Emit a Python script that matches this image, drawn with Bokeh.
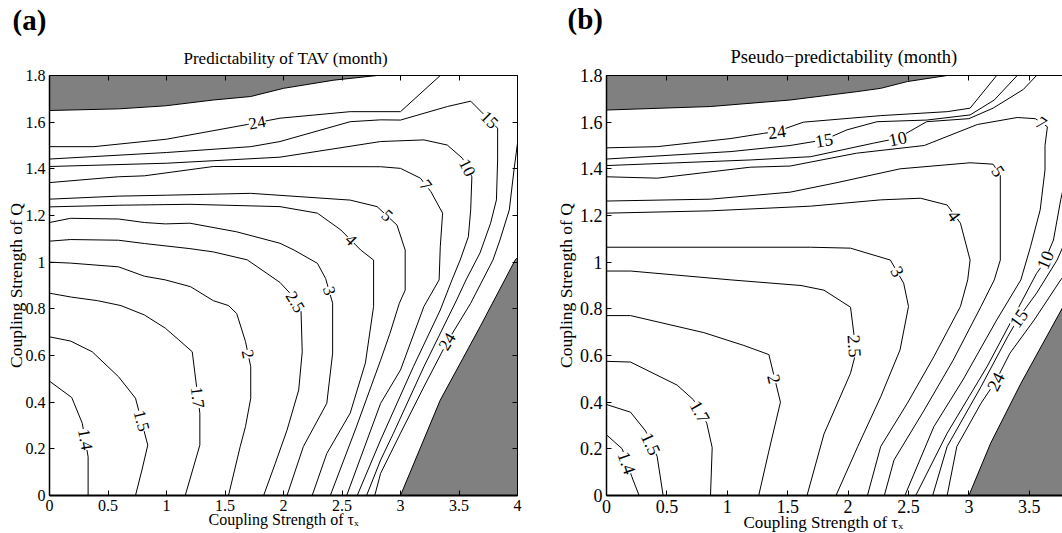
import math
from bokeh.plotting import figure
from bokeh.models import Range1d, LinearAxis, FixedTicker, CustomJSTickFormatter, Label, Title
from bokeh.layouts import row
from bokeh.embed import file_html
from bokeh.resources import INLINE

# ---------------- data ----------------
X_TICKS = [0, 0.5, 1, 1.5, 2, 2.5, 3, 3.5, 4]
Y_TICKS = [0, 0.2, 0.4, 0.6, 0.8, 1.0, 1.2, 1.4, 1.6, 1.8]

# Panel (a): Predictability of TAV (month)
A_LEVELS = ["1.4", "1.5", "1.7", "2", "2.5", "3", "4", "5", "7", "10", "15", "24", "24"]
A_XS = [
    [0, 0.19, 0.28, 0.33, 0.33],
    [0, 0.18, 0.365, 0.59, 0.735, 0.84, 0.79, 0.735],
    [0, 0.19, 0.41, 0.61, 0.81, 0.99, 1.105, 1.22, 1.25, 1.285, 1.285, 1.16],
    [0, 0.18, 0.59, 0.81, 0.99, 1.205, 1.40, 1.53, 1.60, 1.675, 1.72, 1.72, 1.675, 1.63, 1.53],
    [0, 0.18, 0.59, 0.81, 1.2, 1.4, 1.69, 1.97, 2.05, 2.15, 2.16, 2.13, 2.03, 1.93, 1.83],
    [0, 0.18, 0.59, 0.81, 0.99, 1.2, 1.6, 1.97, 2.09, 2.29, 2.36, 2.42, 2.42, 2.37, 2.17, 2.03],
    [0, 0.59, 1.2, 1.97, 2.29, 2.49, 2.66, 2.77, 2.77, 2.70, 2.57, 2.37, 2.245],
    [0, 0.59, 1.0, 1.72, 2.57, 2.80, 2.97, 3.04, 3.04, 2.99, 2.91, 2.83, 2.62, 2.40],
    [0, 0.59, 0.81, 1.40, 1.97, 2.83, 3.0, 3.17, 3.26, 3.36, 3.34, 3.33, 3.2, 3.0, 2.83, 2.54],
    [0, 1.0, 1.97, 2.83, 3.2, 3.4, 3.53, 3.61, 3.60, 3.58, 3.51, 3.44, 3.34, 3.11, 2.83, 2.63],
    [0, 1.0, 1.72, 1.97, 2.57, 2.83, 3.0, 3.40, 3.60, 3.83, 3.83, 3.82, 3.77, 3.68, 3.56, 3.48, 3.2, 2.94, 2.83, 2.71],
    [0, 0.38, 1.0, 1.69, 1.97, 2.57, 3.0, 3.34],
    [4.0, 3.97, 3.93, 3.85, 3.79, 3.6, 3.40, 3.2, 3.0, 2.83, 2.78],
]
A_YS = [
    [0.49, 0.42, 0.31, 0.166, 0],
    [0.68, 0.662, 0.616, 0.509, 0.417, 0.216, 0.109, 0],
    [0.867, 0.85, 0.835, 0.814, 0.774, 0.717, 0.667, 0.616, 0.495, 0.352, 0.216, 0],
    [1.0, 0.996, 0.98, 0.94, 0.924, 0.895, 0.835, 0.814, 0.78, 0.66, 0.552, 0.417, 0.295, 0.21, 0],
    [1.09, 1.097, 1.094, 1.08, 1.058, 1.044, 1.01, 0.913, 0.87, 0.788, 0.616, 0.452, 0.28, 0.138, 0],
    [1.17, 1.188, 1.185, 1.17, 1.164, 1.167, 1.13, 1.081, 1.052, 0.995, 0.93, 0.824, 0.61, 0.395, 0.21, 0],
    [1.237, 1.244, 1.248, 1.238, 1.21, 1.138, 1.052, 1.009, 0.81, 0.568, 0.353, 0.18, 0],
    [1.27, 1.283, 1.287, 1.295, 1.266, 1.238, 1.159, 1.052, 0.88, 0.824, 0.695, 0.58, 0.29, 0],
    [1.341, 1.366, 1.37, 1.41, 1.41, 1.409, 1.402, 1.36, 1.302, 1.21, 1.066, 0.924, 0.81, 0.538, 0.395, 0],
    [1.41, 1.424, 1.45, 1.517, 1.524, 1.502, 1.445, 1.366, 1.224, 1.109, 1.009, 0.924, 0.795, 0.552, 0.238, 0],
    [1.442, 1.47, 1.495, 1.517, 1.602, 1.61, 1.609, 1.667, 1.69, 1.574, 1.438, 1.267, 1.167, 1.04, 0.924, 0.838, 0.552, 0.267, 0.152, 0],
    [1.495, 1.495, 1.527, 1.59, 1.617, 1.645, 1.645, 1.8],
    [1.51, 1.395, 1.224, 1.095, 1.009, 0.824, 0.659, 0.466, 0.267, 0.095, 0],
]
A_LABEL_X = [0.305, 0.786, 1.265, 1.695, 2.10, 2.39, 2.575, 2.885, 3.215, 3.57, 3.76, 1.775, 3.40]
A_LABEL_Y = [0.24, 0.32, 0.42, 0.606, 0.829, 0.877, 1.095, 1.2, 1.33, 1.405, 1.61, 1.597, 0.659]
A_GRAY_TOP_X = [0, 0, 0.59, 0.99, 1.4, 1.72, 2.0, 2.43, 2.8]
A_GRAY_TOP_Y = [1.8, 1.65, 1.657, 1.67, 1.695, 1.71, 1.745, 1.78, 1.8]
A_GRAY_BOT_X = [3.0, 3.34, 3.68, 3.98, 4.0, 4.0]
A_GRAY_BOT_Y = [0, 0.409, 0.723, 1.009, 1.02, 0]

# Panel (b): Pseudo-predictability (month)
B_LEVELS = ["1.4", "1.5", "1.7", "2", "2.5", "3", "4", "5", "7", "10", "10", "15", "15", "24", "24"]
B_XS = [
    [0, 0.13, 0.21, 0.27],
    [0, 0.199, 0.323, 0.419, 0.469],
    [0, 0.199, 0.585, 0.72, 0.83, 0.875, 0.861],
    [0, 0.199, 0.806, 1.137, 1.344, 1.44, 1.344, 1.26],
    [0, 0.2, 1.03, 1.61, 1.80, 2.02, 2.05, 2.06, 2.02, 1.80, 1.66],
    [0, 1.69, 2.02, 2.35, 2.46, 2.50, 2.43, 2.27, 2.08, 1.90],
    [0, 0.86, 1.69, 2.27, 2.60, 2.82, 2.93, 3.01, 2.99, 2.93, 2.71, 2.49, 2.27, 2.16],
    [0, 0.86, 1.52, 1.9, 2.43, 3.01, 3.20, 3.26, 3.26, 3.21, 3.10, 2.87, 2.63, 2.38, 2.30],
    [0, 0.42, 1.19, 1.52, 2.07, 2.63, 3.07, 3.40, 3.55, 3.65, 3.63, 3.63, 3.59, 3.51, 3.43, 3.23, 2.95, 2.71, 2.47],
    [0, 1.19, 1.69, 2.21, 2.41, 2.65, 3.0, 3.2, 3.45, 3.56],
    [3.80, 3.76, 3.70, 3.62, 3.56, 3.40, 3.15, 2.82, 2.56],
    [0, 1.03, 1.52, 1.80, 1.99, 2.24, 2.65, 3.01, 3.21, 3.40],
    [3.85, 3.73, 3.56, 3.41, 3.32, 3.10, 2.82, 2.70],
    [0, 0.42, 1.03, 1.30, 1.41, 1.63, 2.27, 2.82, 3.01, 3.23],
    [3.9, 3.76, 3.54, 3.34, 3.22, 3.10, 2.90, 2.82],
]
B_YS = [
    [0.26, 0.20, 0.08, 0],
    [0.39, 0.357, 0.277, 0.168, 0],
    [0.575, 0.572, 0.473, 0.41, 0.31, 0.205, 0],
    [0.771, 0.771, 0.698, 0.643, 0.604, 0.40, 0.19, 0],
    [0.962, 0.962, 0.924, 0.90, 0.88, 0.807, 0.684, 0.604, 0.524, 0.263, 0],
    [1.064, 1.064, 1.06, 1.009, 0.91, 0.81, 0.624, 0.423, 0.21, 0],
    [1.21, 1.22, 1.24, 1.267, 1.274, 1.245, 1.167, 1.009, 0.924, 0.81, 0.595, 0.395, 0.21, 0],
    [1.262, 1.27, 1.30, 1.34, 1.40, 1.426, 1.42, 1.374, 1.009, 0.924, 0.81, 0.58, 0.366, 0.152, 0],
    [1.366, 1.36, 1.407, 1.412, 1.467, 1.50, 1.59, 1.62, 1.615, 1.58, 1.50, 1.395, 1.224, 1.066, 0.924, 0.752, 0.495, 0.295, 0],
    [1.414, 1.438, 1.452, 1.51, 1.531, 1.602, 1.615, 1.66, 1.74, 1.8],
    [1.36, 1.267, 1.095, 0.995, 0.952, 0.795, 0.552, 0.267, 0],
    [1.442, 1.474, 1.50, 1.524, 1.567, 1.602, 1.609, 1.631, 1.695, 1.8],
    [1.15, 1.009, 0.867, 0.76, 0.68, 0.466, 0.21, 0],
    [1.49, 1.495, 1.53, 1.552, 1.56, 1.60, 1.628, 1.645, 1.66, 1.8],
    [1.02, 0.924, 0.752, 0.61, 0.488, 0.395, 0.21, 0],
]
B_LABEL_X = [0.17, 0.37, 0.775, 1.39, 2.055, 2.41, 2.88, 3.245, 3.60, 2.41, 3.63, 1.80, 3.41, 1.41, 3.22]
B_LABEL_Y = [0.14, 0.222, 0.36, 0.50, 0.64, 0.96, 1.20, 1.39, 1.598, 1.531, 1.01, 1.524, 0.76, 1.56, 0.488]
B_GRAY_TOP_X = [0, 0, 0.86, 1.52, 2.075, 2.27, 2.49, 2.82]
B_GRAY_TOP_Y = [1.8, 1.652, 1.667, 1.695, 1.731, 1.745, 1.774, 1.8]
B_GRAY_BOT_X = [3.0, 3.18, 3.43, 3.77, 4.0, 4.0]
B_GRAY_BOT_Y = [0, 0.224, 0.48, 0.80, 1.05, 0]

TITLES = ["Predictability of TAV  (month)", "Pseudo\u2212predictability (month)"]
PANEL_TAGS = ["(a)", "(b)"]
XLABEL = "Coupling Strength of \u03c4\u2093"
YLABEL = "Coupling Strength of Q"

SERIF = "Liberation Serif"
FMT = "return String(Math.round(tick*10)/10);"


def label_angle(xs, ys, lx, ly, sx, sy):
    best = None
    for i in range(len(xs) - 1):
        x0, y0, x1, y1 = xs[i], ys[i], xs[i + 1], ys[i + 1]
        vx, vy = (x1 - x0) * sx, (y1 - y0) * sy
        px, py = (lx - x0) * sx, (ly - y0) * sy
        L2 = vx * vx + vy * vy
        t = 0 if L2 == 0 else max(0, min(1, (px * vx + py * vy) / L2))
        d = (px - t * vx) ** 2 + (py - t * vy) ** 2
        if best is None or d < best[0]:
            best = (d, vx, vy)
    ang = math.atan2(best[2], best[1])
    while ang >= math.pi / 2 - 1e-6:
        ang -= math.pi
    while ang < -math.pi / 2 - 1e-6:
        ang += math.pi
    return ang


def make_panel(width, left, right, frame_x0, xmax, levels, xs, ys, lab_x, lab_y,
               gtx, gty, gbx, gby, title, tag, tick_size, title_size, xlab_size, clab_size,
               title_abs, xlab_abs, tag_abs, ylab_standoff, title_standoff, tag_standoff,
               right_axis):
    top, bottom, height = 75, 38, 533
    p = figure(width=width, height=height, x_range=Range1d(0, xmax), y_range=Range1d(0, 1.8),
               output_backend="svg", toolbar_location=None,
               min_border_left=left, min_border_right=right,
               min_border_top=top, min_border_bottom=bottom)
    p.outline_line_color = None
    p.grid.visible = False
    p.background_fill_color = "white"
    p.border_fill_color = "white"
    fw = width - left - right
    fh = height - top - bottom
    sx = fw / xmax
    sy = fh / 1.8

    for ax, ticks, lw in ((p.xaxis[0], X_TICKS, 2), (p.yaxis[0], Y_TICKS, 1.5)):
        ax.ticker = FixedTicker(ticks=ticks)
        ax.formatter = CustomJSTickFormatter(code=FMT)
        ax.major_tick_in = 5
        ax.major_tick_out = 0
        ax.minor_tick_in = 0
        ax.minor_tick_out = 0
        ax.axis_line_width = lw
        ax.axis_line_color = "black"
        ax.major_tick_line_color = "black"
        ax.major_label_text_font = SERIF
        ax.major_label_text_font_size = f"{tick_size}px"
        ax.major_label_text_color = "black"
        ax.major_label_standoff = 4
        ax.axis_label_text_font = SERIF
        ax.axis_label_text_font_style = "normal"
        ax.axis_label_text_color = "black"
    p.yaxis[0].axis_label = YLABEL
    p.yaxis[0].axis_label_text_font_size = "17.5px"
    p.yaxis[0].axis_label_standoff = ylab_standoff

    sides = [("above", X_TICKS)]
    if right_axis:
        sides.append(("right", Y_TICKS))
    for side, ticks in sides:
        ax = LinearAxis(ticker=FixedTicker(ticks=ticks), formatter=CustomJSTickFormatter(code="return '';"),
                        major_tick_in=5, major_tick_out=0, minor_tick_in=0, minor_tick_out=0,
                        axis_line_width=1, axis_line_color="black", major_label_text_font_size="1px",
                        major_label_standoff=0)
        p.add_layout(ax, side)

    p.add_layout(Title(text=title, align="left", offset=title_abs - frame_x0, vertical_align="middle",
                       text_font=SERIF, text_font_style="normal", text_font_size=f"{title_size}px",
                       text_color="black", standoff=title_standoff), "above")
    p.add_layout(Title(text=tag, align="left", offset=tag_abs - frame_x0, vertical_align="top",
                       text_font=SERIF, text_font_style="bold", text_font_size="29px",
                       text_color="black", standoff=tag_standoff), "above")
    p.add_layout(Title(text=XLABEL, align="left", offset=xlab_abs - frame_x0, text_font=SERIF,
                       text_font_style="normal", text_font_size=f"{xlab_size}px",
                       text_color="black", standoff=-9), "below")

    p.patch(gtx, gty, fill_color="#808080", line_color="black", line_width=1)
    p.patch(gbx, gby, fill_color="#808080", line_color="black", line_width=1)
    p.multi_line(xs=xs, ys=ys, line_color="black", line_width=1)

    for lev, x_, y_, lx, ly in zip(levels, xs, ys, lab_x, lab_y):
        ang = label_angle(x_, y_, lx, ly, sx, sy)
        p.add_layout(Label(x=lx, y=ly, text=lev, angle=ang, text_font=SERIF,
                           text_font_size=f"{clab_size}px", text_align="center",
                           text_baseline="middle", text_color="black",
                           background_fill_color="white"))
    return p


# panel (a): canvas x 0..550, frame 49..517 ; panel (b): canvas x 550..1062, frame 606..1062 (cut)
pa = make_panel(550, 49, 33, 49, 4.0, A_LEVELS, A_XS, A_YS, A_LABEL_X, A_LABEL_Y,
                A_GRAY_TOP_X, A_GRAY_TOP_Y, A_GRAY_BOT_X, A_GRAY_BOT_Y,
                TITLES[0], PANEL_TAGS[0], 16, 17, 16, 17, 183, 208, 12, -3, 14, 6, True)
pb = make_panel(512, 56, 0, 606, 456 / 120.8, B_LEVELS, B_XS, B_YS, B_LABEL_X, B_LABEL_Y,
                B_GRAY_TOP_X, B_GRAY_TOP_Y, B_GRAY_BOT_X, B_GRAY_BOT_Y,
                TITLES[1], PANEL_TAGS[1], 18, 18.5, 17, 18, 730, 743, 567,
                1, 15, 3, False)

layout = row(pa, pb)
open("out.html", "w").write(file_html(layout, INLINE))
